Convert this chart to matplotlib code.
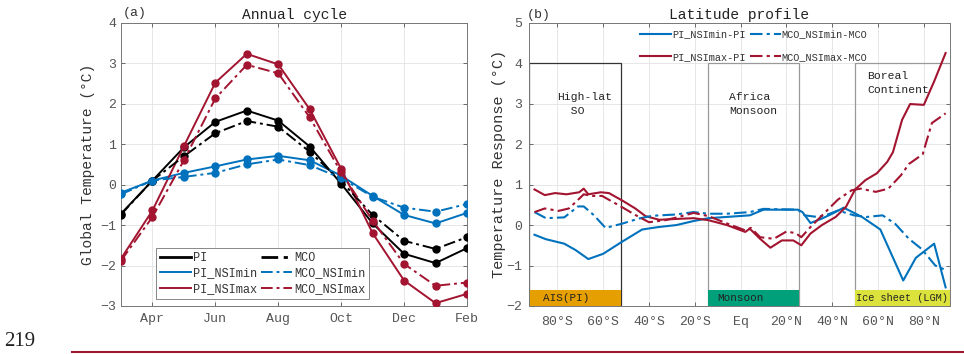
import matplotlib
matplotlib.use('Agg')
import matplotlib.pyplot as plt
from matplotlib.lines import Line2D
from matplotlib.patches import Rectangle

plt.rcParams['font.family'] = 'Liberation Mono'

# (a) ANNUAL CYCLE, Mar .. Feb
months = [3, 4, 5, 6, 7, 8, 9, 10, 11, 12, 13, 14]
month_ticks = [4, 6, 8, 10, 12, 14]
month_labels = ['Apr', 'Jun', 'Aug', 'Oct', 'Dec', 'Feb']
pi = [-0.72, 0.10, 0.92, 1.55, 1.83, 1.58, 0.94, 0.02, -0.96, -1.71, -1.94, -1.57]
mco = [-0.74, 0.10, 0.70, 1.27, 1.57, 1.43, 0.81, 0.08, -0.75, -1.39, -1.59, -1.30]
pi_nsimin = [-0.20, 0.10, 0.29, 0.45, 0.62, 0.71, 0.60, 0.22, -0.28, -0.75, -0.96, -0.70]
mco_nsimin = [-0.24, 0.10, 0.19, 0.29, 0.50, 0.62, 0.48, 0.16, -0.30, -0.57, -0.67, -0.48]
pi_nsimax = [-1.83, -0.64, 0.95, 2.52, 3.23, 2.97, 1.86, 0.39, -1.20, -2.37, -2.93, -2.70]
mco_nsimax = [-1.88, -0.80, 0.60, 2.13, 2.96, 2.75, 1.66, 0.30, -0.89, -1.96, -2.50, -2.42]

# (b) LATITUDE PROFILE
lat_min_pi = [-90, -85, -77, -72, -66.5, -60, -52, -43, -36, -28, -20.5, -14, 4, 10, 25, 27,
              30.5, 35.5, 40, 45, 53, 61, 71, 76.5, 84.5, 89.5]
val_min_pi = [-0.24, -0.35, -0.46, -0.62, -0.84, -0.71, -0.42, -0.11, -0.05, 0.0, 0.1, 0.17, 0.24,
              0.38, 0.38, 0.32, 0.05, 0.16, 0.28, 0.43, 0.2, -0.11, -1.37, -0.81, -0.46, -1.54]
lat_min_mco = [-90, -85, -77, -71, -68.5, -64, -59, -52, -44.5, -38.5, -28.5, -20.5, -14, -6, 4,
               10, 25, 28, 33.5, 37.5, 42.5, 49.5, 55, 62, 67.5, 73.5, 79, 85, 89.5]
val_min_mco = [0.32, 0.17, 0.19, 0.46, 0.46, 0.24, -0.07, 0.03, 0.16, 0.23, 0.26, 0.32, 0.28, 0.28,
               0.32, 0.40, 0.38, 0.24, 0.20, 0.25, 0.36, 0.24, 0.20, 0.24, 0.03, -0.34, -0.59, -1.0, -1.11]
lat_max_pi = [-90, -85.5, -81, -76, -70.5, -68.5, -66.5, -61, -57.5, -51.5, -46, -41.5, -35.5,
              -28.5, -20.5, -14, -6, 2, 4, 8.5, 13, 18, 23, 26.5, 30.5, 35.5, 41.5, 46, 50,
              54.5, 59.5, 64, 66.5, 70.5, 74, 80, 84.5, 89.5]
val_max_pi = [0.88, 0.74, 0.79, 0.76, 0.81, 0.90, 0.76, 0.81, 0.79, 0.60, 0.41, 0.22, 0.13,
              0.15, 0.17, 0.12, 0.0, -0.17, -0.09, -0.34, -0.56, -0.38, -0.38, -0.50, -0.21, 0.0,
              0.20, 0.45, 0.88, 1.11, 1.28, 1.56, 1.80, 2.6, 2.99, 2.97, 3.55, 4.25]
lat_max_mco = [-90, -85.5, -79.5, -75, -70.5, -68.5, -65, -60.5, -52, -46, -40, -33, -28.5,
               -20.5, -14, -6, 2, 4.5, 8.5, 14.5, 20, 24, 26.5, 30.5, 37, 42.5, 48.5, 52.5,
               59, 64.5, 70, 73.5, 79.5, 83.5, 89.5]
val_max_mco = [0.32, 0.41, 0.35, 0.41, 0.65, 0.76, 0.72, 0.72, 0.45, 0.25, 0.07, 0.12, 0.18,
               0.30, 0.22, 0.04, -0.13, -0.07, -0.30, -0.34, -0.16, -0.20, -0.30, -0.05, 0.32,
               0.63, 0.86, 0.90, 0.82, 0.90, 1.23, 1.51, 1.75, 2.52, 2.76]

lat_ticks = [-80, -60, -40, -20, 0, 20, 40, 60, 80]
lat_labels = ['80°S', '60°S', '40°S', '20°S', 'Eq', '20°N', '40°N', '60°N', '80°N']

# regions: (start, end, bar colour, bar text, bar text x, box text, box text x, y, box edge)
regions = [
    (-92.4, -52.4, '#E69F00', 'AIS(PI)', -86.2, 'High-lat\n  SO', -80, 3.0, '#333333'),
    (-14.3, 25.7, '#00A07A', 'Monsoon', -10.2, 'Africa\nMonsoon', -5.1, 3.0, '#999999'),
    (49.8, 91.2, '#DCE23C', 'Ice sheet (LGM)', 50.3, 'Boreal\nContinent', 55.2, 3.52, '#999999'),
]

BLUE = '#0072BD'
RED = '#A2142F'
DASH = (0, (6, 2, 1.5, 2))
TICKC = '#555555'

fig = plt.figure(figsize=(9.64, 3.54), dpi=100)
ax1 = fig.add_axes([121/964, 1-306/354, 346/964, 283.3/354])
ax2 = fig.add_axes([529/964, 1-306/354, 420.5/964, 283.3/354])

for ax in (ax1, ax2):
    ax.grid(True, color='#e3e3e3', lw=0.6, zorder=0)
    ax.set_axisbelow(True)
    ax.tick_params(direction='in', top=True, right=True, length=3, colors=TICKC,
                   labelcolor=TICKC, labelsize=9.5, width=0.6)
    for s in ax.spines.values():
        s.set_color('#777777')
        s.set_linewidth(0.7)

# (a)
series = [
    (pi, 'PI', 'black', '-'),
    (pi_nsimin, 'PI_NSImin', BLUE, '-'),
    (pi_nsimax, 'PI_NSImax', RED, '-'),
    (mco, 'MCO', 'black', DASH),
    (mco_nsimin, 'MCO_NSImin', BLUE, DASH),
    (mco_nsimax, 'MCO_NSImax', RED, DASH),
]
handles = []
for vals, lab, col, ls in series:
    ax1.plot(months, vals, color=col, ls=ls, lw=1.4, marker='o', ms=5, zorder=3)
    handles.append(Line2D([], [], color=col, ls=ls, lw=2 if lab in ('PI', 'MCO') else 1.4, label=lab))

ax1.set_xlim(3, 14)
ax1.set_ylim(-3, 4)
ax1.set_xticks(month_ticks)
ax1.set_xticklabels(month_labels)
ax1.set_yticks(range(-3, 5))
ax1.tick_params(axis='x', pad=5)
ax1.set_ylabel('Global Temperature (°C)', fontsize=10.5, color='#333333', labelpad=4)
ax1.set_title('Annual cycle', fontsize=10.5, pad=3, color='#222222')
ax1.text(0.005, 1.012, '(a)', transform=ax1.transAxes, fontsize=9.5, color='#333333', va='bottom')
leg = ax1.legend(handles=handles, ncol=2, loc='lower left', bbox_to_anchor=(0.085, 0.005),
                 fontsize=8.6, handlelength=2.6, handletextpad=0.2, columnspacing=0.3,
                 labelspacing=0.3, borderpad=0.3, fancybox=False, framealpha=1, edgecolor='#888888')
leg.get_frame().set_linewidth(0.7)
for t in leg.get_texts():
    t.set_color('#333333')

# (b)
for x0, x1, col, bar_txt, bx, box_txt, tx, ty, ec in regions:
    ax2.add_patch(Rectangle((x0, -2), x1 - x0, 6, fill=False, ec=ec, lw=0.9, zorder=1.5))
    ax2.add_patch(Rectangle((x0, -2), x1 - x0, 0.4, fc=col, ec='none', zorder=1.6))
    ax2.text(bx, -1.8, bar_txt, fontsize=7.4 if len(bar_txt) > 10 else 7.9,
             color='#222222', va='center', ha='left', zorder=2)
    ax2.text(tx, ty, box_txt, fontsize=8.2, color='#222222', va='center', ha='left',
             linespacing=1.5)

ax2.plot(lat_min_pi, val_min_pi, color=BLUE, lw=1.5, label='PI_NSImin-PI', zorder=3)
ax2.plot(lat_max_pi, val_max_pi, color=RED, lw=1.5, label='PI_NSImax-PI', zorder=3)
ax2.plot(lat_min_mco, val_min_mco, color=BLUE, lw=1.5, ls=DASH, label='MCO_NSImin-MCO', zorder=3)
ax2.plot(lat_max_mco, val_max_mco, color=RED, lw=1.5, ls=DASH, label='MCO_NSImax-MCO', zorder=3)

ax2.set_xlim(-92.4, 91.2)
ax2.set_ylim(-2, 5)
ax2.set_xticks(lat_ticks)
ax2.set_xticklabels(lat_labels)
ax2.set_yticks(range(-2, 6))
ax2.tick_params(axis='x', pad=7)
ax2.tick_params(axis='y', pad=5)
ax2.set_ylabel('Temperature Response (°C)', fontsize=11, color='#333333', labelpad=0)
ax2.set_title('Latitude profile', fontsize=10.5, pad=3, color='#222222')
ax2.text(-0.005, 1.005, '(b)', transform=ax2.transAxes, fontsize=9.5, color='#333333', va='bottom')
leg2 = ax2.legend(ncol=2, loc='upper left', bbox_to_anchor=(0.245, 1.005), frameon=False,
                  fontsize=7.4, handlelength=3.0, handletextpad=0.1, columnspacing=0.4,
                  labelspacing=1.2, borderpad=0.3)
for t in leg2.get_texts():
    t.set_color('#333333')

# page furniture
fig.text(4/964, 1-341/354, '219', fontsize=15, family='Liberation Serif', va='center', color='#222222')
fig.add_artist(Line2D([72/964, 1.0], [1-352/354, 1-352/354], color='#A0182F', lw=1.5))

fig.savefig('out.png', dpi=100)
